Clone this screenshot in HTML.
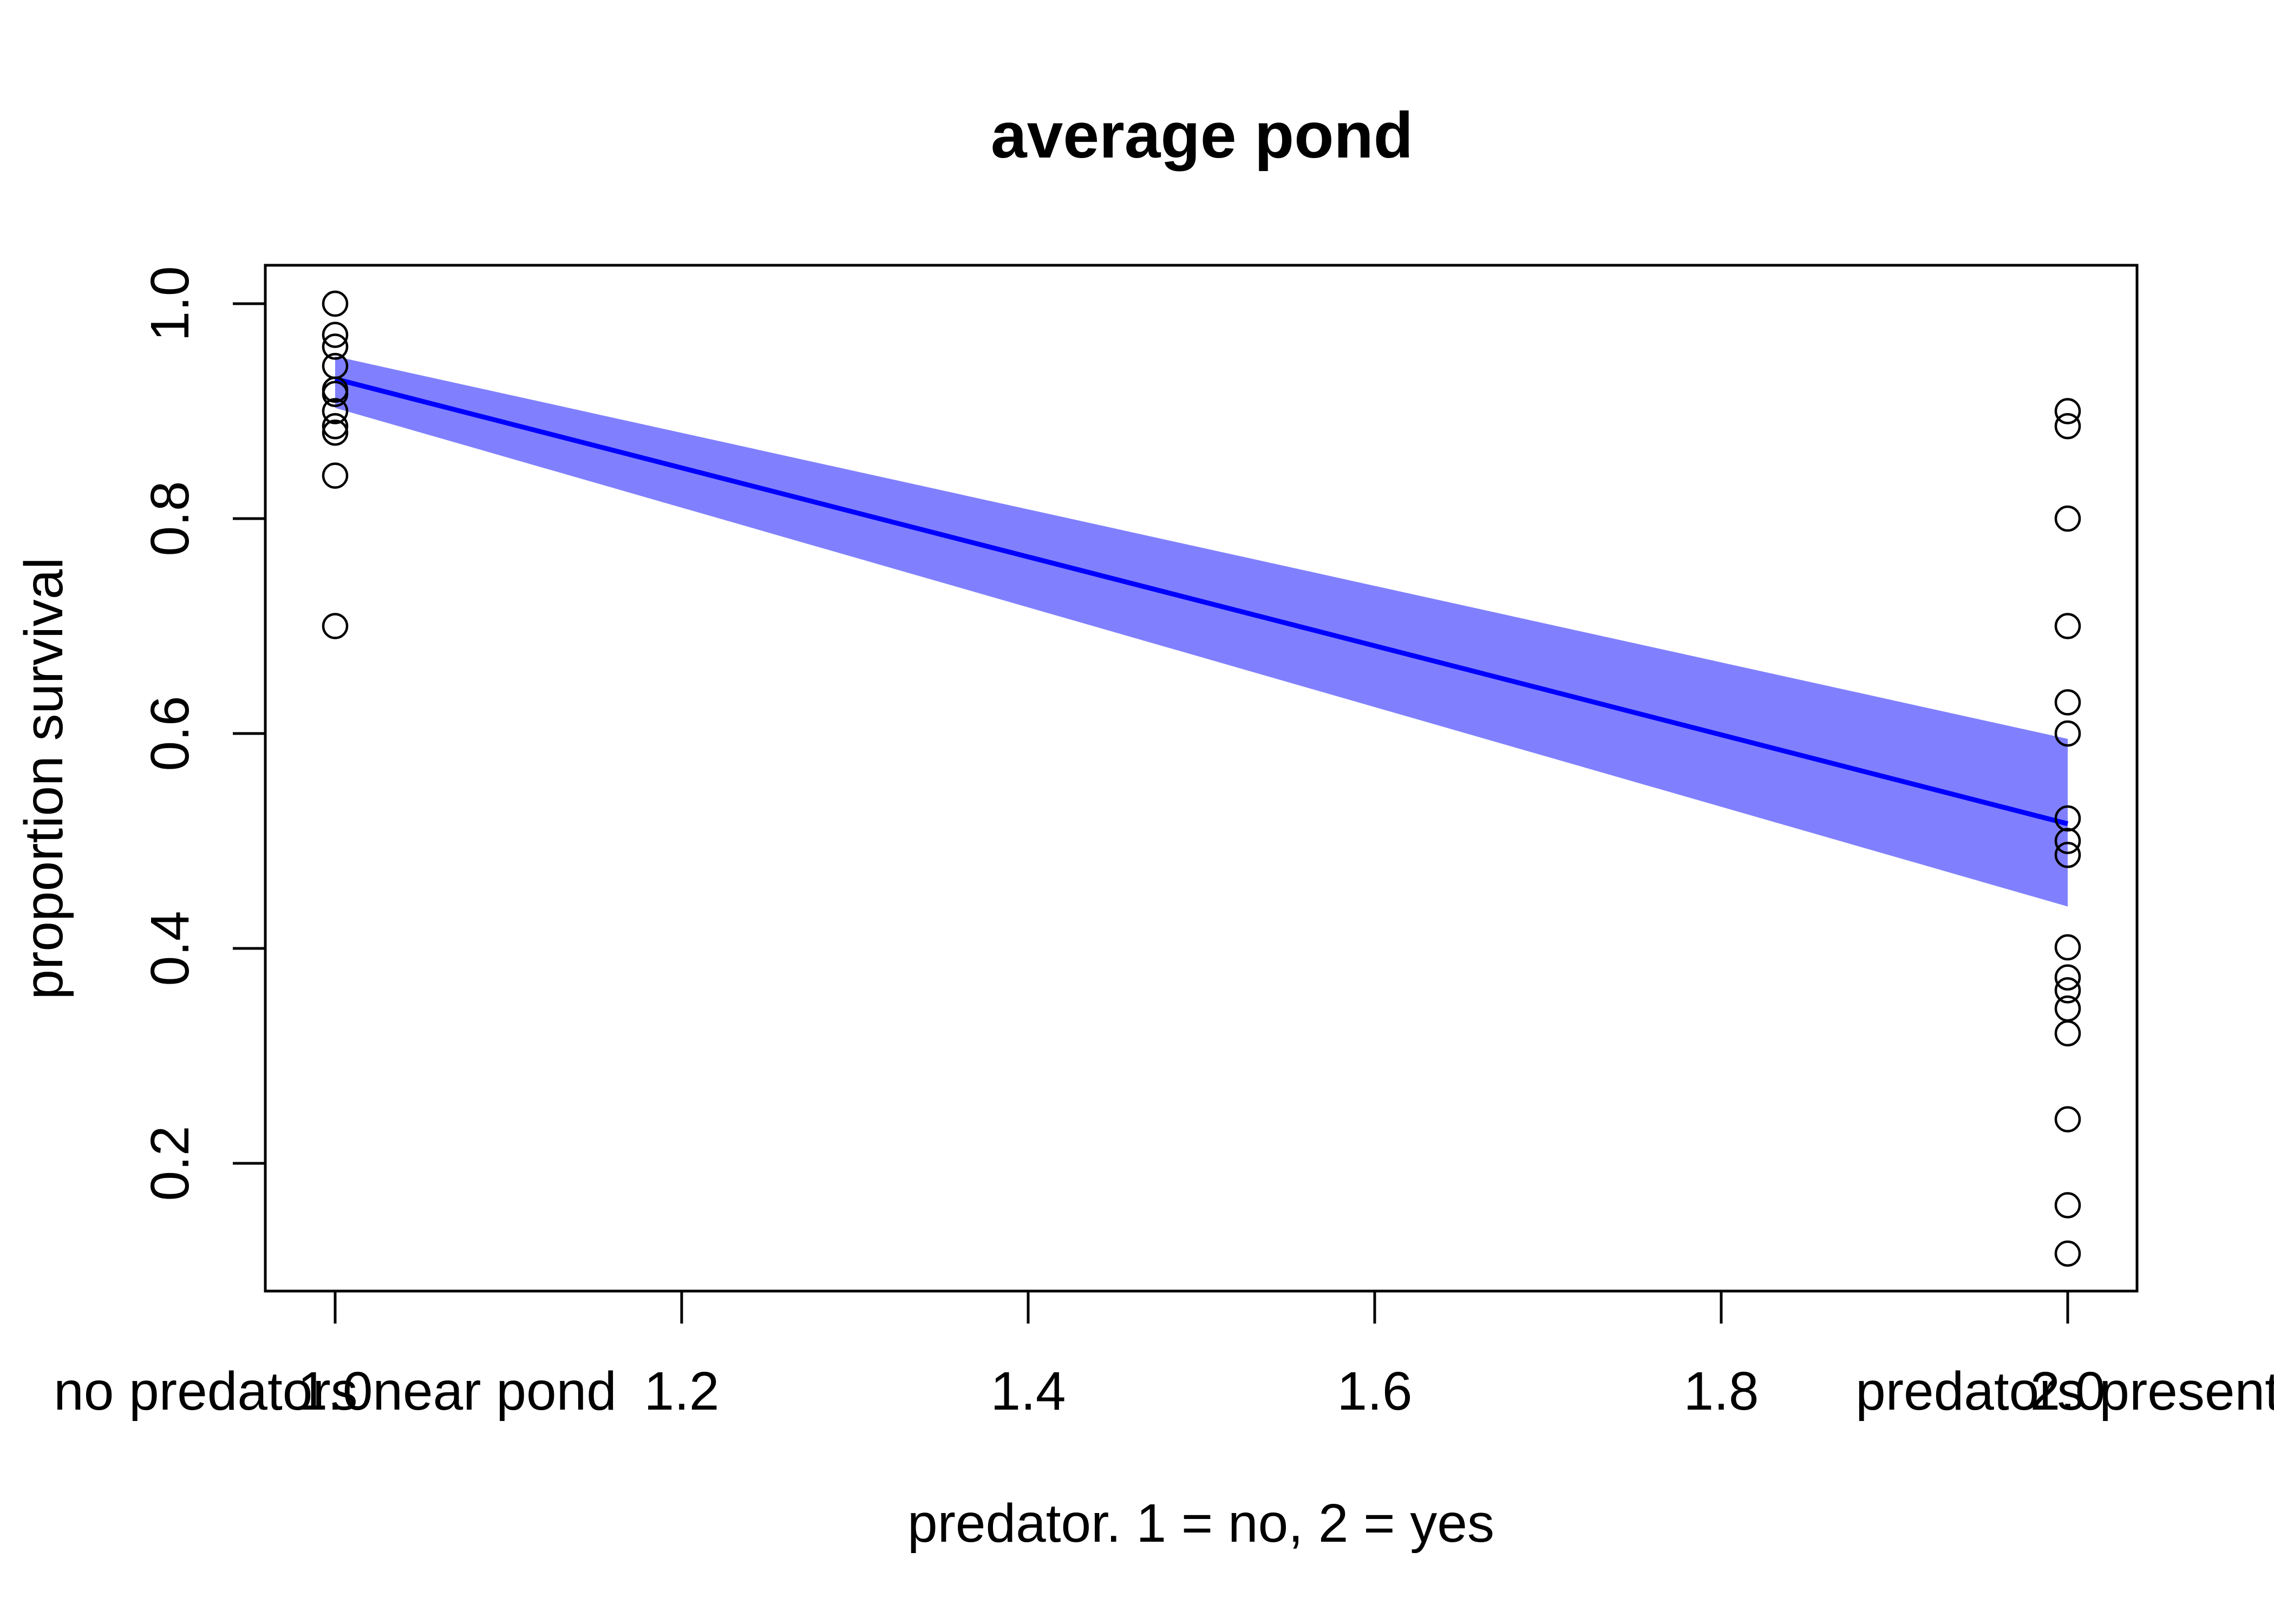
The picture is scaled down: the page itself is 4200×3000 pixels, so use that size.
<!DOCTYPE html>
<html><head><meta charset="utf-8"><style>
html,body{margin:0;padding:0;background:#fff;}
svg{display:block;}
text{font-family:"Liberation Sans",sans-serif;fill:#000;}
</style></head><body>
<svg id="chart" width="4200" height="3000" viewBox="0 0 4200 3000" xmlns="http://www.w3.org/2000/svg">
<rect x="0" y="0" width="4200" height="3000" fill="#fff"/>
<text x="2220" y="291" font-size="120" font-weight="bold" text-anchor="middle">average pond</text>
<g id="band"></g>
<g id="line"></g>
<g id="points"></g>
<rect x="490" y="490" width="3457" height="1895" fill="none" stroke="#000" stroke-width="5"/>
<g id="xaxis"></g>
<g id="yaxis"></g>
<text x="2218" y="2848" font-size="100" text-anchor="middle">predator. 1 = no, 2 = yes</text>
<text x="0" y="0" font-size="100" text-anchor="middle" transform="translate(115,1438) rotate(-90)">proportion survival</text>
</svg>
<script>
const xTicks = [1.0, 1.2, 1.4, 1.6, 1.8, 2.0];
const xTickLabels = ["1.0", "1.2", "1.4", "1.6", "1.8", "2.0"];
const yTicks = [0.2, 0.4, 0.6, 0.8, 1.0];
const yTickLabels = ["0.2", "0.4", "0.6", "0.8", "1.0"];
const groupLabels = ["no predators near pond", "predators present"];
const groupX = [1, 2];
const pointsNoPred = [1.0, 0.971, 0.96, 0.942, 0.92, 0.916, 0.9, 0.886, 0.88, 0.84, 0.70];
const pointsPred = [0.90, 0.886, 0.80, 0.70, 0.629, 0.60, 0.521, 0.50, 0.487, 0.401, 0.373, 0.361, 0.344, 0.321, 0.241, 0.161, 0.116];
const lineX = [1, 2];
const meanVals = [0.93, 0.516];
const upperVals = [0.951, 0.595];
const lowerVals = [0.903, 0.439];

const NS = "http://www.w3.org/2000/svg";
function X(v){ return 619 + (v - 1) * 3200; }
function Y(v){ return 561 + (1 - v) * 1985; }
function mk(tag, attrs, parent){
  const e = document.createElementNS(NS, tag);
  for (const k in attrs) e.setAttribute(k, attrs[k]);
  parent.appendChild(e);
  return e;
}
const band = document.getElementById('band');
let d = "";
lineX.forEach((x,i)=>{ d += (i?"L":"M") + X(x) + "," + Y(upperVals[i]); });
for (let i = lineX.length-1; i >= 0; i--) d += "L" + X(lineX[i]) + "," + Y(lowerVals[i]);
d += "Z";
const bp = mk('path', {d:d, fill:'#8080ff', stroke:'none'}, band);



const lg = document.getElementById('line');
const pts = lineX.map((x,i)=>X(x)+","+Y(meanVals[i])).join(" ");
const pl = mk('polyline', {points:pts, fill:'none', stroke:'#0000ff', 'stroke-width':9}, lg);



const pg = document.getElementById('points');
[[1, pointsNoPred], [2, pointsPred]].forEach(([gx, arr])=>{
  arr.forEach(v=>{
    const c = mk('circle', {cx:X(gx), cy:Y(v), r:22, fill:'none', stroke:'#000', 'stroke-width':4.5}, pg);
    
    
  });
});

const xa = document.getElementById('xaxis');
mk('line', {x1:X(xTicks[0]), x2:X(xTicks[xTicks.length-1]), y1:2385, y2:2385, stroke:'#000', 'stroke-width':5}, xa);
xTicks.forEach((t,i)=>{
  const l = mk('line', {x1:X(t), x2:X(t), y1:2385, y2:2445, stroke:'#000', 'stroke-width':5}, xa);
  
  
  const tx = mk('text', {x:X(t), y:2604, 'font-size':100, 'text-anchor':'middle'}, xa);
  tx.textContent = xTickLabels[i];
  
  
});
groupLabels.forEach((g,i)=>{
  const tx = mk('text', {x:X(groupX[i]), y:2604, 'font-size':100, 'text-anchor':'middle'}, xa);
  tx.textContent = g;
  
  
});

const ya = document.getElementById('yaxis');
mk('line', {x1:490, x2:490, y1:Y(yTicks[0]), y2:Y(yTicks[yTicks.length-1]), stroke:'#000', 'stroke-width':5}, ya);
yTicks.forEach((t,i)=>{
  const l = mk('line', {x1:430, x2:490, y1:Y(t), y2:Y(t), stroke:'#000', 'stroke-width':5}, ya);
  
  
  const tx = mk('text', {x:0, y:0, 'font-size':100, 'text-anchor':'middle', transform:'translate(348,'+Y(t)+') rotate(-90)'}, ya);
  tx.textContent = yTickLabels[i];
  
  
});
</script>
</body></html>
